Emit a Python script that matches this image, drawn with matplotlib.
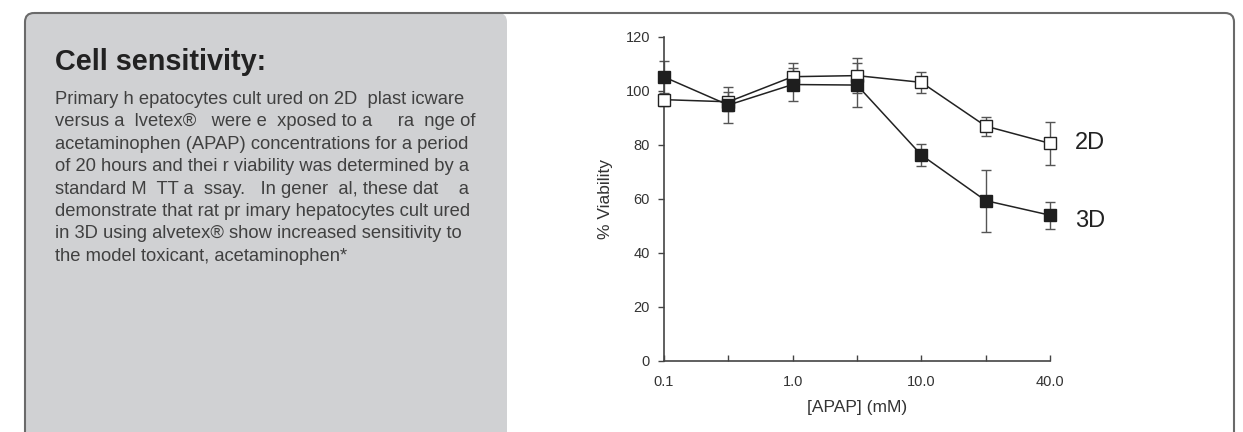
import matplotlib
matplotlib.use("Agg")
import matplotlib.pyplot as plt
from matplotlib.patches import FancyBboxPatch

plt.rcParams["font.family"] = ["Liberation Sans", "DejaVu Sans"]

# data
apap_mm = [0.1, 0.3, 1.0, 3.0, 10.0, 30.0, 40.0]
tick_labels = ["0.1", "", "1.0", "", "10.0", "", "40.0"]
viability_2d = [96.8, 96.0, 105.3, 105.7, 103.2, 87.0, 80.6]
err_2d = [2.2, 3.5, 5.0, 6.5, 4.0, 3.5, 8.0]
viability_3d = [105.2, 94.8, 102.4, 102.2, 76.3, 59.4, 54.0]
err_3d = [6.0, 6.5, 6.0, 8.0, 4.0, 11.5, 5.0]

title = "Cell sensitivity:"
body_lines = [
    "Primary h epatocytes cult ured on 2D  plast icware",
    "versus a  lvetex\u00ae   were e  xposed to a     ra  nge of",
    "acetaminophen (APAP) concentrations for a period",
    "of 20 hours and thei r viability was determined by a",
    "standard M  TT a  ssay.   In gener  al, these dat    a",
    "demonstrate that rat pr imary hepatocytes cult ured",
    "in 3D using alvetex\u00ae show increased sensitivity to",
    "the model toxicant, acetaminophen*",
]

W, H = 1243, 432
fig = plt.figure(figsize=(W / 100, H / 100), dpi=100)

# background layer in pixel coordinates
bg = fig.add_axes([0, 0, 1, 1])
bg.set_xlim(0, W)
bg.set_ylim(H, 0)
bg.axis("off")
bg.add_patch(FancyBboxPatch((25, 13), 482, 460, boxstyle="round,pad=0,rounding_size=9",
                            facecolor="#d0d1d3", edgecolor="none"))
bg.add_patch(FancyBboxPatch((25, 13), 1209, 460, boxstyle="round,pad=0,rounding_size=9",
                            facecolor="none", edgecolor="#6a6a6a", lw=1.5))
bg.text(55, 70, title, fontsize=20.8, fontweight="bold", color="#222222", va="baseline")
for i, line in enumerate(body_lines):
    bg.text(55, 104 + i * 22.4, line, fontsize=13.2, color="#404040", va="baseline")

# chart
ax = fig.add_axes([664 / W, 1 - 361 / H, (1050 - 664) / W, (361 - 37) / H])
ax.patch.set_alpha(0)
xs = list(range(len(apap_mm)))

for vals, errs in ((viability_2d, err_2d), (viability_3d, err_3d)):
    eb = ax.errorbar(xs, vals, yerr=errs, fmt="none", ecolor="#555555",
                     elinewidth=1.0, capsize=3.5, capthick=1.0, zorder=2)
    for art in eb.lines[1] + eb.lines[2]:
        art.set_clip_on(False)
ax.plot(xs, viability_2d, color="#222222", lw=1.1, marker="s", markersize=8,
        markerfacecolor="white", markeredgecolor="#222222", markeredgewidth=1.0,
        zorder=3, clip_on=False)
ax.plot(xs, viability_3d, color="#222222", lw=1.1, marker="s", markersize=8,
        markerfacecolor="#1e1e1e", markeredgecolor="#1e1e1e", zorder=4, clip_on=False)

ax.annotate("2D", (xs[-1], viability_2d[-1]), xytext=(18, 0), textcoords="offset points",
            fontsize=17, color="#222222", va="center", ha="left", annotation_clip=False)
ax.annotate("3D", (xs[-1], viability_3d[-1]), xytext=(18, -4), textcoords="offset points",
            fontsize=17, color="#222222", va="center", ha="left", annotation_clip=False)

ax.set_xlim(0, len(apap_mm) - 1)
ax.set_ylim(0, 120)
ax.set_xticks(xs)
ax.set_xticklabels(tick_labels)
ax.set_yticks(range(0, 121, 20))
ax.tick_params(axis="x", direction="in", length=4, width=1.0, pad=10,
               labelsize=10.5, labelcolor="#333333", color="#444444")
ax.tick_params(axis="y", direction="out", length=4, width=1.0, pad=6,
               labelsize=10.5, labelcolor="#333333", color="#444444")
for side in ("top", "right"):
    ax.spines[side].set_visible(False)
for side in ("left", "bottom"):
    ax.spines[side].set_color("#444444")
    ax.spines[side].set_linewidth(1.2)
for lab in ax.get_xticklabels() + ax.get_yticklabels():
    lab.set_clip_on(False)

ax.set_xlabel("[APAP] (mM)", fontsize=12.5, color="#333333", labelpad=8)
ax.set_ylabel("% Viability", fontsize=12.5, color="#333333", labelpad=9)

fig.savefig("out.png", dpi=100)
